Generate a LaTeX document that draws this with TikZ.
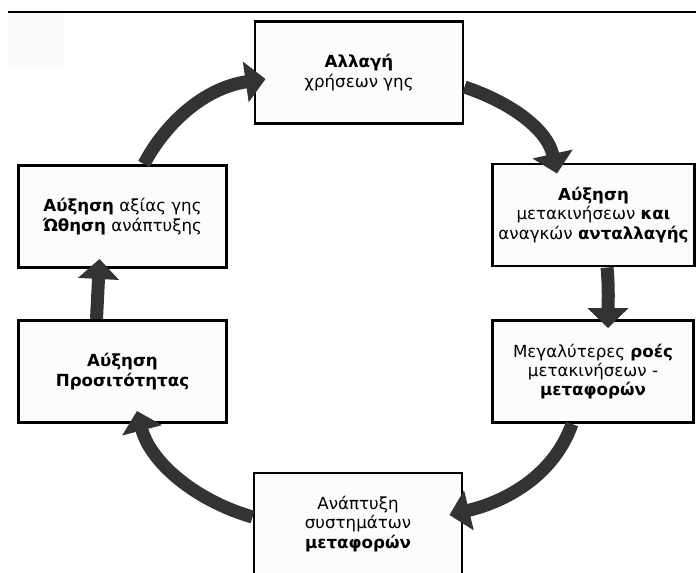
\documentclass[tikz,border=0pt]{standalone}
\usepackage{fontspec}
\setmainfont{DejaVu Sans}
\usepackage{tikz}
\usetikzlibrary{arrows.meta}
\usetikzlibrary{calc}

\begin{document}
\begin{tikzpicture}[x=0.75pt,y=0.75pt,yscale=-1,xscale=1,
  stage/.style={draw=black, line width=2.2pt, fill=black!1, align=center,
    inner sep=1pt, minimum width=156pt, minimum height=76.5pt,
    font=\fontsize{12.5}{14.5}\selectfont},
  cyc/.style={draw=black!80, line width=9.75pt, -{Triangle[width=30pt,length=15pt]}}]
\useasboundingbox (0,0) rectangle (696,572);

%Straight Lines [id:top rule]
\fill [black!2] (8,13) rectangle (64,65) ;
\draw [line width=1.5pt] (8,12) -- (696,12) ;

%Flowchart: Process [id:chg]
\node [stage] (chg) at (359,72.5) {\textbf{Αλλαγή}\\χρήσεων γης};
%Flowchart: Process [id:rt]
\node [stage, minimum width=151pt] (rt) at (593.5,215) {\textbf{Αύξηση}\\μετακινήσεων \textbf{και}\\αναγκών \textbf{ανταλλαγής}};
%Flowchart: Process [id:rb]
\node [stage, minimum width=151pt] (rb) at (593,371.5) {Μεγαλύτερες \textbf{ροές}\\μετακινήσεων -\\\textbf{μεταφορών}};
%Flowchart: Process [id:bot]
\node [stage] (bot) at (358,524) {Ανάπτυξη\\συστημάτων\\\textbf{μεταφορών}};
%Flowchart: Process [id:lb]
\node [stage] (lb) at (122.5,371.5) {\textbf{Αύξηση}\\\textbf{Προσιτότητας}};
%Flowchart: Process [id:lt]
\node [stage] (lt) at (122.5,216.5) {\textbf{Αύξηση} αξίας γης\\\textbf{Ώθηση} ανάπτυξης};

%Curve Lines [id:cycle arrows]
\draw [cyc] ($(lt.north)+(21.5,0)$) .. controls +(21,-40) and +(-62,9) .. ($(chg.west)+(12,6.5)$) ;
\draw [cyc] ($(chg.east)+(0,14.5)$) .. controls +(45,15) and +(-10,-45) .. ($(rt.north)+(-36.5,11)$) ;
\draw [cyc] ($(rt.south)+(13.5,0)$) .. controls +(2,20) and +(0,-20) .. ($(rb.north)+(15,9)$) ;
\draw [cyc] ($(rb.south)+(-21,0)$) .. controls +(-17,48) and +(62,-15) .. ($(bot.east)+(-14,-9)$) ;
\draw [cyc] ($(bot.west)+(0,-7)$) .. controls +(-59,-17) and +(13,50) .. ($(lb.south)+(14.5,-13)$) ;
\draw [cyc] ($(lb.north)+(-26,0)$) -- ($(lt.south)+(-23,-10)$) ;

\end{tikzpicture}
\end{document}
